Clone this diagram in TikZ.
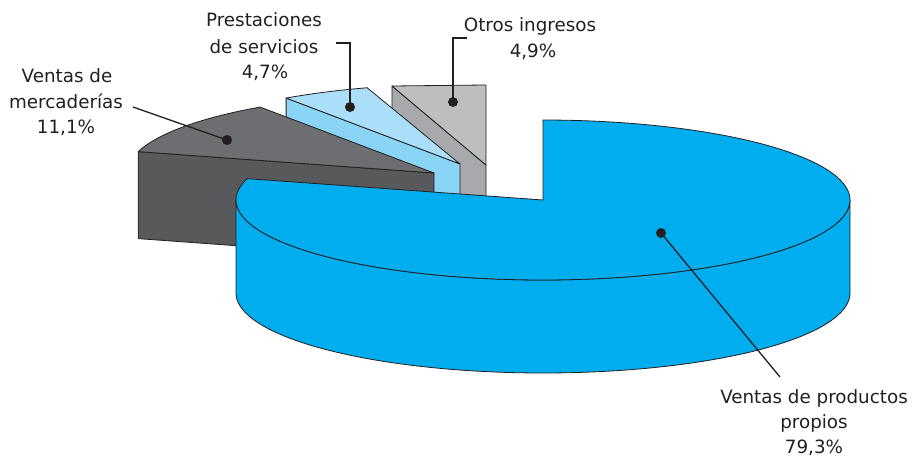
\documentclass[tikz,border=0pt]{standalone}
\usepackage{fontspec}
\setmainfont{DejaVu Sans}
\definecolor{cblue}{HTML}{00AEEF}
\definecolor{ltop}{HTML}{ABDFF9}
\definecolor{lside}{HTML}{8AD5F6}
\definecolor{gtop}{HTML}{BCBEC0}
\definecolor{gside}{HTML}{A7A9AC}
\definecolor{dtop}{HTML}{6D6E71}
\definecolor{dside}{HTML}{58595B}
\definecolor{ink}{HTML}{231F20}
\begin{document}
\begin{tikzpicture}[x=1pt,y=-1pt,
  face/.style={draw=ink, line width=0.8pt, line join=round},
  lab/.style={font=\fontsize{18.3}{22}\selectfont, text=ink, inner sep=0pt, anchor=base},
  dot/.style={circle, fill=ink, inner sep=0pt, minimum size=10pt},
  lead/.style={draw=ink, line width=1.3pt}]
\useasboundingbox (0,0) rectangle (917,460);
% Otros ingresos slice (apex 486,165)
\coordinate (oa) at (486,165);
\coordinate (ot) at (486,85);
\coordinate (ol) at (392,86);
\path[fill=gside, face] (oa) -- (ol) -- ++(0,87) -- ++(94,79) -- cycle;
\path[fill=gtop, face] (oa) -- (ot) -- (ol) -- cycle;
% Prestaciones slice (apex 460,164)
\path[fill=lside, face] (460,164) -- ({460+307*cos(124.5)},{164-80*sin(124.5)}) -- ({460+307*cos(124.5)},{251-80*sin(124.5)}) -- (460,251) -- cycle;
\path[fill=ltop, face] (460,164) -- plot[domain=107.6:124.5, samples=20, variable=\t] ({460+307*cos(\t)},{164-80*sin(\t)}) -- cycle;
% Mercaderias slice (apex 434,173)
\path[fill=dside, face] (434,173) -- ({434+307*cos(164.5)},{173-80*sin(164.5)}) -- ({434+307*cos(164.5)},{260-80*sin(164.5)}) -- (434,260) -- cycle;
\path[fill=dtop, face] (434,173) -- plot[domain=124.5:164.5, samples=40, variable=\t] ({434+307*cos(\t)},{173-80*sin(\t)}) -- cycle;
% Big slice (centre 543,200)
\path[fill=cblue, face] plot[domain=180:360, samples=90, variable=\t] ({543+307*cos(\t)},{200-80*sin(\t)}) -- (850,293) -- plot[domain=360:180, samples=90, variable=\t] ({543+307*cos(\t)},{293-80*sin(\t)}) -- cycle;
\path[fill=cblue, face] (543,200) -- plot[domain=164.5:450, samples=150, variable=\t] ({543+307*cos(\t)},{200-80*sin(\t)}) -- cycle;
% dots
\node[dot] (dm) at (227,140) {};
\node[dot] (dp) at (350,107) {};
\node[dot] (do) at (453,102) {};
\node[dot] (db) at (661,233) {};
% leader ends
\coordinate (em) at (133,107);
\coordinate (ep) at (336,43);
\coordinate (eo) at (467,38);
\coordinate (eb) at (780,377);
\draw[lead] (em) -- (dm.center);
\draw[lead] (ep) -| (dp.center);
\draw[lead] (eo) -| (do.center);
\draw[lead] (eb) -- (db.center);
% labels
\node[lab] (m1) at (67,82) {Ventas de};
\node[lab] (m2) at (66,108) {mercaderías};
\node[lab] (m3) at (66,133) {11,1\%};
\node[lab] (p1) at (264,27) {Prestaciones};
\node[lab] (p2) at (264,53) {de servicios};
\node[lab] (p3) at (265,78) {4,7\%};
\node[lab] (o1) at (530,32) {Otros ingresos};
\node[lab] (o2) at (533,58) {4,9\%};
\node[lab] (b1) at (814,403) {Ventas de productos};
\node[lab] (b2) at (814,428) {propios};
\node[lab] (b3) at (814,453) {79,3\%};
\end{tikzpicture}
\end{document}
